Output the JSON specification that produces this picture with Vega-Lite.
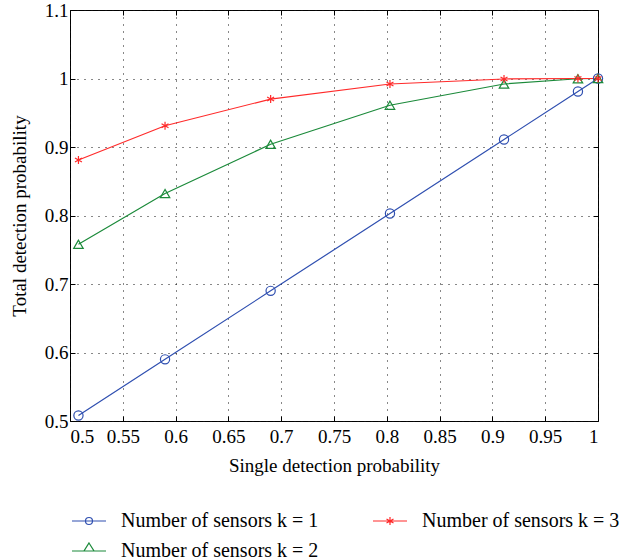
{
  "$schema": "https://vega.github.io/schema/vega-lite/v6.json",
  "autosize": "none",
  "width": 528,
  "height": 411,
  "padding": {"left": 70, "top": 10, "right": 24, "bottom": 139},
  "background": "white",
  "config": {
    "font": "Liberation Serif",
    "view": {"stroke": "black", "strokeWidth": 1}
  },
  "data": {
    "values": [
      {"x": 0.508, "y": 0.508, "series": "Number of sensors k = 1"},
      {"x": 0.59, "y": 0.59, "series": "Number of sensors k = 1"},
      {"x": 0.69, "y": 0.69, "series": "Number of sensors k = 1"},
      {"x": 0.803, "y": 0.803, "series": "Number of sensors k = 1"},
      {"x": 0.911, "y": 0.911, "series": "Number of sensors k = 1"},
      {"x": 0.981, "y": 0.981, "series": "Number of sensors k = 1"},
      {"x": 1.0, "y": 1.0, "series": "Number of sensors k = 1"},
      {"x": 0.508, "y": 0.758, "series": "Number of sensors k = 2"},
      {"x": 0.59, "y": 0.832, "series": "Number of sensors k = 2"},
      {"x": 0.69, "y": 0.904, "series": "Number of sensors k = 2"},
      {"x": 0.803, "y": 0.961, "series": "Number of sensors k = 2"},
      {"x": 0.911, "y": 0.992, "series": "Number of sensors k = 2"},
      {"x": 0.981, "y": 0.9996, "series": "Number of sensors k = 2"},
      {"x": 1.0, "y": 1.0, "series": "Number of sensors k = 2"},
      {"x": 0.508, "y": 0.881, "series": "Number of sensors k = 3"},
      {"x": 0.59, "y": 0.931, "series": "Number of sensors k = 3"},
      {"x": 0.69, "y": 0.970, "series": "Number of sensors k = 3"},
      {"x": 0.803, "y": 0.992, "series": "Number of sensors k = 3"},
      {"x": 0.911, "y": 0.9993, "series": "Number of sensors k = 3"},
      {"x": 0.981, "y": 1.0, "series": "Number of sensors k = 3"},
      {"x": 1.0, "y": 1.0, "series": "Number of sensors k = 3"}
    ]
  },
  "resolve": {
    "axis": {"x": "independent", "y": "independent"}
  },
  "layer": [
    {
      "mark": {"type": "line", "strokeWidth": 1.2, "clip": false},
      "encoding": {
        "x": {
          "field": "x", "type": "quantitative",
          "scale": {"domain": [0.5, 1], "nice": false, "zero": false},
          "axis": {
            "orient": "bottom",
            "values": [0.5, 0.55, 0.6, 0.65, 0.7, 0.75, 0.8, 0.85, 0.9, 0.95, 1],
            "format": "~g",
            "grid": true, "gridDash": [1, 6], "gridColor": "#111", "gridOpacity": 1,
            "domain": false,
            "tickSize": -5, "tickColor": "black",
            "labelFontSize": 19, "labelColor": "black", "labelPadding": 11,
            "labelFont": "Liberation Serif",
            "title": "Single detection probability",
            "titleFontSize": 19, "titleFontWeight": "normal", "titleColor": "black",
            "titleFont": "Liberation Serif", "titlePadding": 10
          }
        },
        "y": {
          "field": "y", "type": "quantitative",
          "scale": {"domain": [0.5, 1.1], "nice": false, "zero": false},
          "axis": {
            "orient": "left",
            "values": [0.5, 0.6, 0.7, 0.8, 0.9, 1, 1.1],
            "format": "~g",
            "grid": true, "gridDash": [1, 6], "gridColor": "#111", "gridOpacity": 1,
            "domain": false,
            "tickSize": -5, "tickColor": "black",
            "labelFontSize": 19, "labelColor": "black", "labelPadding": 7,
            "labelFont": "Liberation Serif",
            "title": "Total detection probability",
            "titleFontSize": 19, "titleFontWeight": "normal", "titleColor": "black",
            "titleFont": "Liberation Serif", "titlePadding": 15
          }
        },
        "color": {
          "field": "series", "type": "nominal",
          "scale": {
            "domain": ["Number of sensors k = 1", "Number of sensors k = 3", "Number of sensors k = 2"],
            "range": ["#2f4fb0", "#ff2a2a", "#1b8a3a"]
          }
        }
      }
    },
    {
      "transform": [{"filter": "datum.series === 'Number of sensors k = 1'"}],
      "mark": {"type": "point", "shape": "circle", "size": 85, "filled": false, "strokeWidth": 1.2, "opacity": 1, "clip": false},
      "encoding": {
        "x": {
          "field": "x", "type": "quantitative",
          "axis": {
            "orient": "top", "labels": false, "grid": false, "domain": false,
            "values": [0.5, 0.55, 0.6, 0.65, 0.7, 0.75, 0.8, 0.85, 0.9, 0.95, 1],
            "tickSize": -5, "tickColor": "black", "title": null
          }
        },
        "y": {
          "field": "y", "type": "quantitative",
          "axis": {
            "orient": "right", "labels": false, "grid": false, "domain": false,
            "values": [0.5, 0.6, 0.7, 0.8, 0.9, 1, 1.1],
            "tickSize": -5, "tickColor": "black", "title": null
          }
        },
        "color": {"field": "series", "type": "nominal"}
      }
    },
    {
      "transform": [{"filter": "datum.series === 'Number of sensors k = 2'"}],
      "mark": {"type": "point", "shape": "triangle-up", "size": 90, "filled": false, "strokeWidth": 1.2, "opacity": 1, "clip": false},
      "encoding": {
        "x": {"field": "x", "type": "quantitative", "axis": null},
        "y": {"field": "y", "type": "quantitative", "axis": null},
        "color": {"field": "series", "type": "nominal"}
      }
    },
    {
      "transform": [{"filter": "datum.series === 'Number of sensors k = 3'"}],
      "mark": {"type": "point", "shape": "M0,-1V1M-0.87,-0.5L0.87,0.5M-0.87,0.5L0.87,-0.5", "size": 64, "filled": false, "strokeWidth": 1.2, "opacity": 1, "clip": false},
      "encoding": {
        "x": {"field": "x", "type": "quantitative", "axis": null},
        "y": {"field": "y", "type": "quantitative", "axis": null},
        "color": {"field": "series", "type": "nominal"}
      }
    },
    {
      "mark": {"type": "point", "filled": false, "opacity": 0, "strokeWidth": 1.2, "clip": false},
      "encoding": {
        "x": {"field": "x", "type": "quantitative", "axis": null},
        "y": {"field": "y", "type": "quantitative", "axis": null},
        "color": {
          "field": "series", "type": "nominal",
          "legend": {
            "orient": "none", "legendX": 8, "legendY": 500,
            "columns": 2, "direction": "horizontal",
            "title": null,
            "symbolSize": 400, "symbolStrokeWidth": 1.2, "symbolOpacity": 1,
            "labelFontSize": 20, "labelFont": "Liberation Serif", "labelColor": "black",
            "labelOffset": 21, "labelLimit": 300,
            "rowPadding": 9, "columnPadding": 51
          }
        },
        "shape": {
          "field": "series", "type": "nominal",
          "scale": {
            "domain": ["Number of sensors k = 1", "Number of sensors k = 3", "Number of sensors k = 2"],
            "range": [
              "M-1.7,0H1.7M0.35,0A0.35,0.35,0,1,1,-0.35,0A0.35,0.35,0,1,1,0.35,0",
              "M-1.7,0H1.7M0,-0.4V0.4M-0.35,-0.2L0.35,0.2M-0.35,0.2L0.35,-0.2",
              "M-1.7,0H1.7M0,-0.8L0.5,0L-0.5,0Z"
            ]
          },
          "legend": {
            "orient": "none", "legendX": 8, "legendY": 500,
            "columns": 2, "direction": "horizontal",
            "title": null,
            "symbolSize": 400, "symbolStrokeWidth": 1.2, "symbolOpacity": 1,
            "labelFontSize": 20, "labelFont": "Liberation Serif", "labelColor": "black",
            "labelOffset": 21, "labelLimit": 300,
            "rowPadding": 9, "columnPadding": 51
          }
        }
      }
    }
  ]
}
